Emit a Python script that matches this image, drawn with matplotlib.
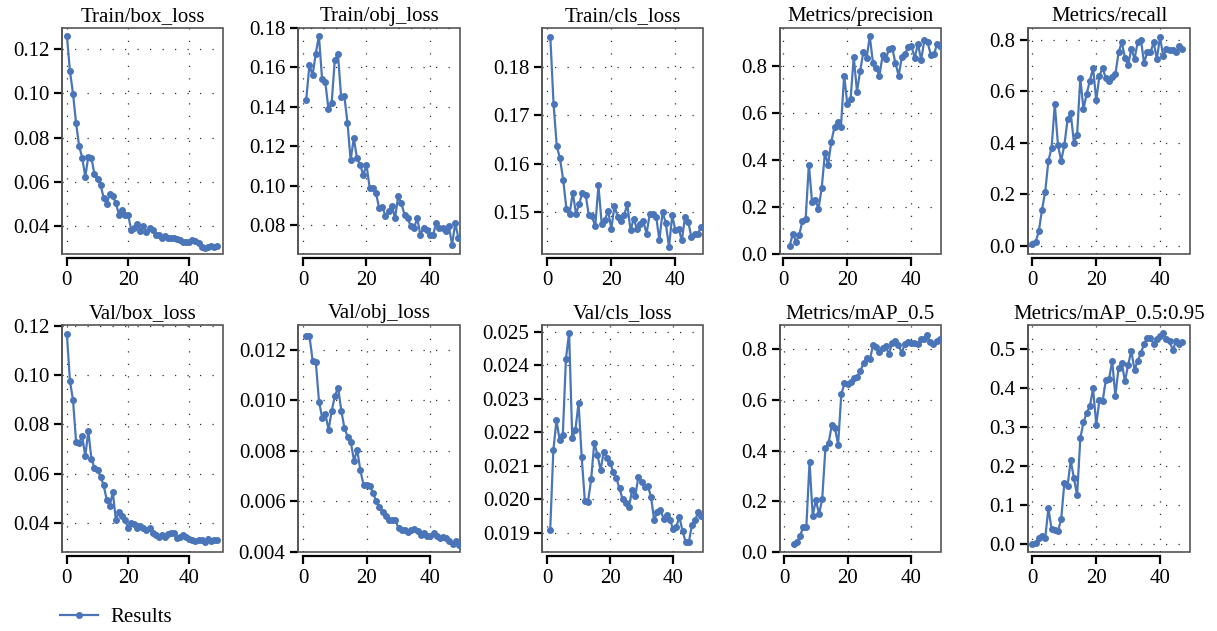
import matplotlib
matplotlib.use('Agg')
import matplotlib.pyplot as plt
import numpy as np
from matplotlib.lines import Line2D
from matplotlib.ticker import MultipleLocator, FormatStrFormatter


# values, one list per panel (x = first epoch + index)
train_box = [0.1259, 0.110, 0.0998, 0.0865, 0.0762, 0.071, 0.0624, 0.0715, 0.071, 0.0635,
             0.0612, 0.0587, 0.053, 0.050, 0.0547, 0.0536, 0.0506, 0.0453, 0.0476, 0.0453,
             0.0453, 0.0385, 0.0392, 0.0412, 0.038, 0.040, 0.0374, 0.0395, 0.0385, 0.0362,
             0.0362, 0.0347, 0.0355, 0.035, 0.0347, 0.035, 0.0344, 0.034, 0.0329, 0.0332,
             0.0329, 0.034, 0.0335, 0.0324, 0.0309, 0.0302, 0.0309, 0.0314, 0.0309, 0.0314]
train_obj = [0.1437, 0.1611, 0.156, 0.167, 0.176, 0.154, 0.1527, 0.139, 0.1417, 0.1636,
             0.167, 0.145, 0.1456, 0.132, 0.113, 0.124, 0.1139, 0.1105, 0.1055, 0.1105,
             0.099, 0.0987, 0.0962, 0.0886, 0.0894, 0.0844, 0.0869, 0.0898, 0.0835, 0.0945,
             0.0911, 0.0852, 0.0835, 0.0793, 0.0785, 0.0835, 0.0751, 0.0785, 0.0776, 0.0751,
             0.0751, 0.081, 0.0785, 0.0785, 0.0768, 0.0793, 0.070, 0.081, 0.0734]
train_cls = [0.1862, 0.1724, 0.1637, 0.1611, 0.1567, 0.1507, 0.1496, 0.154, 0.1496, 0.1517,
             0.154, 0.1536, 0.1493, 0.1491, 0.147, 0.1555, 0.1476, 0.1483, 0.1503, 0.1465,
             0.1512, 0.149, 0.1481, 0.1493, 0.1516, 0.1462, 0.1486, 0.1465, 0.1476, 0.1481,
             0.1455, 0.1496, 0.1496, 0.149, 0.1442, 0.15, 0.1477, 0.1427, 0.1493, 0.1462,
             0.1465, 0.1441, 0.149, 0.1479, 0.1448, 0.1455, 0.1455, 0.1469]
precision = [0.035, 0.085, 0.053, 0.082, 0.14, 0.148, 0.38, 0.22, 0.23, 0.192,
             0.279, 0.429, 0.38, 0.477, 0.54, 0.56, 0.54, 0.758, 0.636, 0.657,
             0.837, 0.69, 0.778, 0.858, 0.833, 0.925, 0.81, 0.79, 0.757, 0.844,
             0.828, 0.872, 0.875, 0.81, 0.758, 0.837, 0.85, 0.879, 0.882, 0.833,
             0.893, 0.824, 0.907, 0.90, 0.847, 0.848, 0.893, 0.882]
recall = [0.005, 0.015, 0.057, 0.14, 0.21, 0.33, 0.38, 0.55, 0.39, 0.33,
          0.39, 0.49, 0.515, 0.40, 0.43, 0.65, 0.53, 0.59, 0.64, 0.69,
          0.565, 0.66, 0.69, 0.65, 0.64, 0.655, 0.665, 0.75, 0.79, 0.73,
          0.70, 0.765, 0.725, 0.79, 0.80, 0.71, 0.75, 0.75, 0.79, 0.725,
          0.81, 0.735, 0.765, 0.76, 0.76, 0.75, 0.775, 0.765]
val_box = [0.1165, 0.0975, 0.0898, 0.0729, 0.0726, 0.0752, 0.0671, 0.0772, 0.0661, 0.0623,
           0.0614, 0.0587, 0.0553, 0.0495, 0.0468, 0.0526, 0.0411, 0.0445, 0.0427, 0.0411,
           0.0381, 0.040, 0.0397, 0.0381, 0.0386, 0.0381, 0.0373, 0.0381, 0.0359, 0.035,
           0.0343, 0.035, 0.0343, 0.0354, 0.0359, 0.0359, 0.034, 0.0343, 0.035, 0.0343,
           0.0336, 0.033, 0.0327, 0.033, 0.0332, 0.0323, 0.0336, 0.0327, 0.033, 0.0332]
val_obj = [0.01255, 0.01255, 0.01157, 0.01151, 0.00996, 0.00932, 0.00947, 0.00884, 0.0096, 0.01018,
           0.01051, 0.0096, 0.0089, 0.00857, 0.00834, 0.00762, 0.00805, 0.00723, 0.00666, 0.00666,
           0.00662, 0.00633, 0.006, 0.0058, 0.00557, 0.00541, 0.00528, 0.00528, 0.00525, 0.00495,
           0.00486, 0.00486, 0.00478, 0.00486, 0.00491, 0.00482, 0.00469, 0.00475, 0.00465, 0.00465,
           0.00475, 0.00465, 0.00455, 0.00459, 0.00455, 0.00442, 0.00433, 0.00442, 0.00429]
val_cls = [0.01907, 0.02147, 0.02235, 0.02177, 0.02192, 0.02419, 0.02497, 0.02182, 0.02207, 0.02287,
           0.02125, 0.01995, 0.01992, 0.02059, 0.02169, 0.02132, 0.02087, 0.02142, 0.02122, 0.02107,
           0.02082, 0.02062, 0.02032, 0.01999, 0.01989, 0.01977, 0.02027, 0.02009, 0.02067, 0.02052,
           0.02035, 0.02039, 0.02007, 0.01937, 0.01962, 0.01967, 0.01942, 0.01952, 0.01937, 0.01912,
           0.01917, 0.01947, 0.01905, 0.01872, 0.01872, 0.01922, 0.01937, 0.01962, 0.01949]
map50 = [0.033, 0.038, 0.062, 0.10, 0.10, 0.355, 0.144, 0.204, 0.15, 0.21,
         0.41, 0.43, 0.50, 0.49, 0.424, 0.622, 0.666, 0.664, 0.671, 0.688,
         0.692, 0.714, 0.745, 0.767, 0.76, 0.816, 0.81, 0.79, 0.807, 0.813,
         0.78, 0.826, 0.833, 0.816, 0.787, 0.82, 0.829, 0.826, 0.826, 0.82,
         0.84, 0.842, 0.855, 0.829, 0.82, 0.833, 0.84]
map50_95 = [0.002, 0.003, 0.015, 0.02, 0.017, 0.092, 0.038, 0.036, 0.034, 0.064,
            0.158, 0.15, 0.215, 0.17, 0.126, 0.272, 0.313, 0.337, 0.354, 0.40,
            0.307, 0.371, 0.367, 0.421, 0.423, 0.47, 0.381, 0.453, 0.466, 0.418,
            0.461, 0.496, 0.448, 0.47, 0.491, 0.513, 0.53, 0.53, 0.515, 0.527,
            0.534, 0.541, 0.527, 0.521, 0.498, 0.521, 0.515, 0.519]

titles = ['Train/box_loss', 'Train/obj_loss', 'Train/cls_loss', 'Metrics/precision', 'Metrics/recall',
          'Val/box_loss', 'Val/obj_loss', 'Val/cls_loss', 'Metrics/mAP_0.5', 'Metrics/mAP_0.5:0.95']
series = [train_box, train_obj, train_cls, precision, recall,
          val_box, val_obj, val_cls, map50, map50_95]
first_epoch = [0, 1, 1, 2, 0, 0, 1, 1, 3, 0]
x_ticks = [0, 20, 40]

# axis ranges / tick formats per panel
ylims = [(0.0276, 0.1294), (0.0653, 0.18), (0.1413, 0.1881), (0.0, 0.96), (-0.032, 0.845),
         (0.0282, 0.1203), (0.004, 0.01299), (0.01842, 0.0252), (0.0, 0.896), (-0.0198, 0.5627)]
ysteps = [0.02, 0.02, 0.01, 0.2, 0.2, 0.02, 0.002, 0.001, 0.2, 0.1]
yfmts = ['%.2f', '%.2f', '%.2f', '%.1f', '%.1f', '%.2f', '%.3f', '%.3f', '%.1f', '%.1f']
xlims = [(-1.6, 51.0), (-1.6, 49.5), (-1.6, 48.6), (-1.0, 49.2), (-1.4, 49.4),
         (-1.6, 51.0), (-1.6, 49.3), (-1.6, 49.5), (-1.3, 49.4), (-1.4, 49.4)]

# panel placement in pixels
W, H = 1217, 631
col_left = [62, 298, 542, 780, 1028]
col_width = [161, 162, 161, 161, 162]
row_top = [28, 325]
row_height = [226, 227]

color = '#4a75b8'
plt.rcParams['font.family'] = ['Liberation Serif', 'DejaVu Serif']
plt.rcParams['font.size'] = 15

fig = plt.figure(figsize=(W / 100, H / 100), dpi=100)

for i, vals in enumerate(series):
    r, c = divmod(i, 5)
    ax = fig.add_axes([col_left[c] / W, 1 - (row_top[r] + row_height[r]) / H,
                       col_width[c] / W, row_height[r] / H])
    x = np.arange(len(vals)) + first_epoch[i]
    ax.plot(x, vals, '-o', color=color, lw=1.6, ms=4)

    ax.set_xlim(*xlims[i])
    ax.set_ylim(*ylims[i])
    ax.set_xticks(x_ticks)
    ax.yaxis.set_major_locator(MultipleLocator(ysteps[i]))
    ax.yaxis.set_major_formatter(FormatStrFormatter(yfmts[i]))
    ax.set_title(titles[i], fontsize=15, pad=5)

    ax.grid(True, linestyle=(0, (1, 9)), color='#333333', lw=0.9)
    ax.tick_params(direction='out', length=6, width=1.6, color='black', pad=3)

    # grey frame + detached black bottom axis line
    ax.patch.set_edgecolor('#555555')
    ax.patch.set_linewidth(1.2)
    for side in ['top', 'right']:
        ax.spines[side].set_visible(False)
    ax.spines['left'].set_color('#555555')
    ax.spines['left'].set_linewidth(1.2)
    ax.spines['bottom'].set_position(('outward', 3))
    ax.spines['bottom'].set_bounds(x_ticks[0], x_ticks[-1])
    ax.spines['bottom'].set_color('black')
    ax.spines['bottom'].set_linewidth(1.6)

handle = Line2D([], [], color=color, marker='o', lw=1.6, ms=4)
fig.legend(handles=[handle], labels=['Results'], loc='center left',
           bbox_to_anchor=(60 / W, 1 - 617 / H), frameon=False,
           handlelength=1.8, handletextpad=0.6, borderaxespad=0, borderpad=0,
           fontsize=15)

fig.savefig('out.png', dpi=100)
